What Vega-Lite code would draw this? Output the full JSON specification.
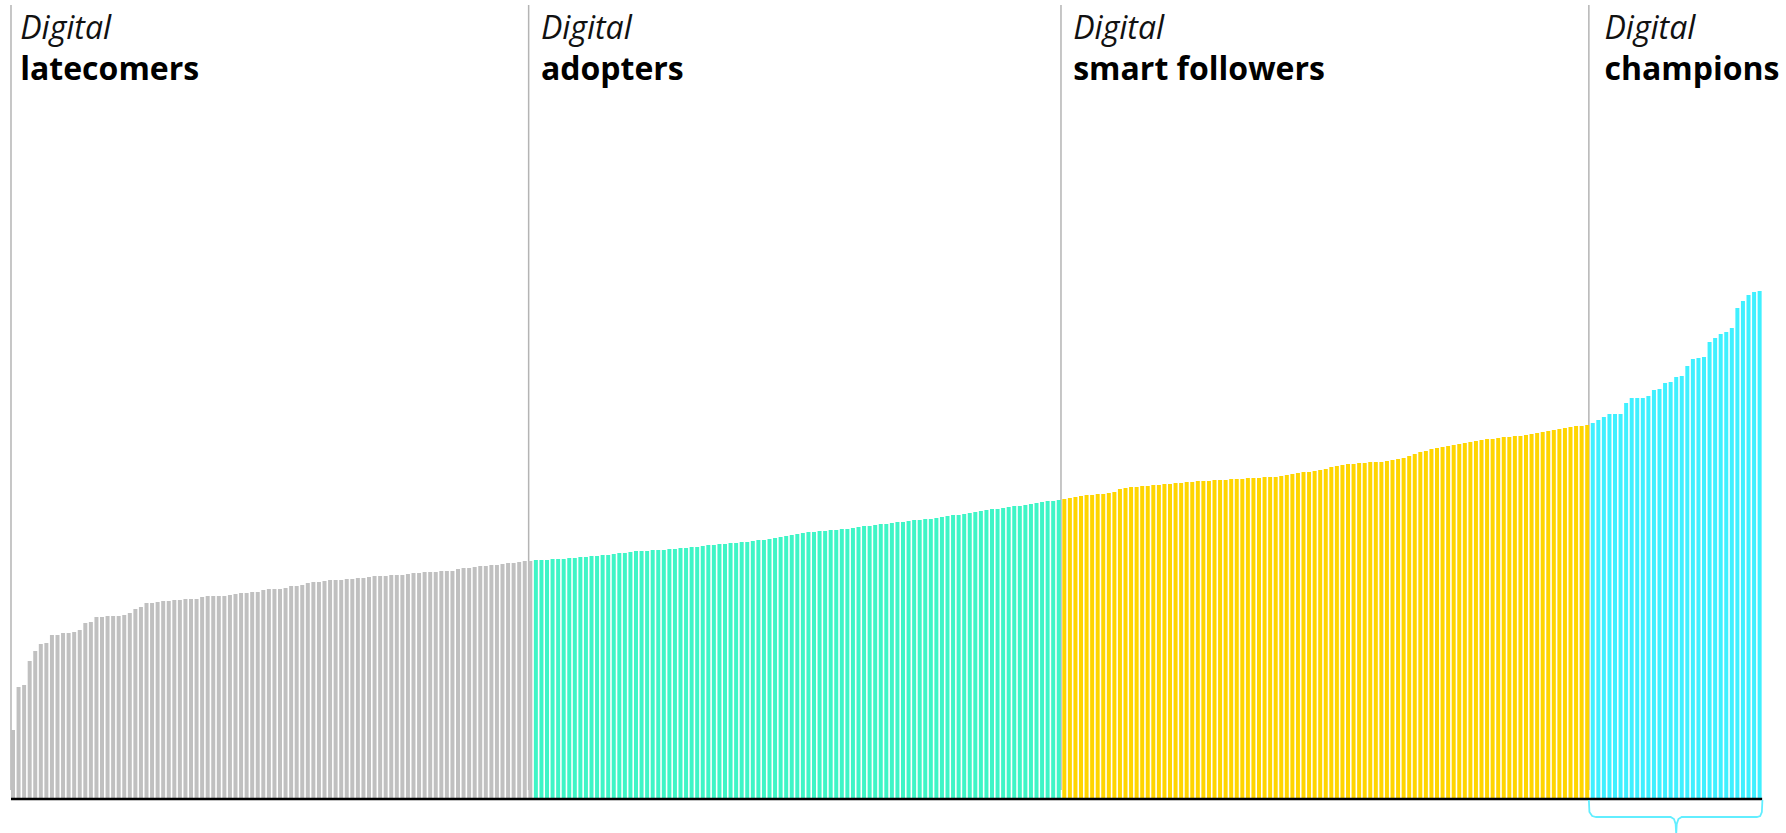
{
  "$schema": "https://vega.github.io/schema/vega-lite/v6.json",
  "width": 1786,
  "height": 833,
  "padding": 0,
  "autosize": {"type": "none"},
  "background": "white",
  "config": {"view": {"stroke": null}},
  "datasets": {
    "groups": [
      {"name": "latecomers", "at": -0.36, "lx": 1.3},
      {"name": "adopters", "at": 92.7, "lx": 94.9},
      {"name": "smart followers", "at": 188.4, "lx": 190.6},
      {"name": "champions", "at": 283.3, "lx": 286.1}
    ],
    "bracket": [
      {"k": 0, "bx": 283.3, "by": -2},
      {"k": 1, "bx": 283.4, "by": -14},
      {"k": 2, "bx": 283.9, "by": -18},
      {"k": 3, "bx": 284.6, "by": -19},
      {"k": 4, "bx": 298.0, "by": -19},
      {"k": 5, "bx": 298.6, "by": -21},
      {"k": 6, "bx": 298.9, "by": -26},
      {"k": 7, "bx": 299.0, "by": -36},
      {"k": 8, "bx": 299.1, "by": -26},
      {"k": 9, "bx": 299.4, "by": -21},
      {"k": 10, "bx": 300.0, "by": -19},
      {"k": 11, "bx": 313.5, "by": -19},
      {"k": 12, "bx": 314.1, "by": -18},
      {"k": 13, "bx": 314.4, "by": -14},
      {"k": 14, "bx": 314.5, "by": -2}
    ],
    "bars": [
      {"i":0,"v":68,"g":"latecomers"},{"i":1,"v":111,"g":"latecomers"},{"i":2,"v":113,"g":"latecomers"},{"i":3,"v":137,"g":"latecomers"},{"i":4,"v":147,"g":"latecomers"},{"i":5,"v":154,"g":"latecomers"},{"i":6,"v":155,"g":"latecomers"},{"i":7,"v":163,"g":"latecomers"},{"i":8,"v":163,"g":"latecomers"},{"i":9,"v":165,"g":"latecomers"},
      {"i":10,"v":165,"g":"latecomers"},{"i":11,"v":166,"g":"latecomers"},{"i":12,"v":168,"g":"latecomers"},{"i":13,"v":175,"g":"latecomers"},{"i":14,"v":176,"g":"latecomers"},{"i":15,"v":181,"g":"latecomers"},{"i":16,"v":181,"g":"latecomers"},{"i":17,"v":182,"g":"latecomers"},{"i":18,"v":182,"g":"latecomers"},{"i":19,"v":182,"g":"latecomers"},
      {"i":20,"v":183,"g":"latecomers"},{"i":21,"v":185,"g":"latecomers"},{"i":22,"v":189,"g":"latecomers"},{"i":23,"v":191,"g":"latecomers"},{"i":24,"v":195,"g":"latecomers"},{"i":25,"v":195,"g":"latecomers"},{"i":26,"v":196,"g":"latecomers"},{"i":27,"v":197,"g":"latecomers"},{"i":28,"v":197,"g":"latecomers"},{"i":29,"v":198,"g":"latecomers"},
      {"i":30,"v":198,"g":"latecomers"},{"i":31,"v":199,"g":"latecomers"},{"i":32,"v":199,"g":"latecomers"},{"i":33,"v":199,"g":"latecomers"},{"i":34,"v":201,"g":"latecomers"},{"i":35,"v":202,"g":"latecomers"},{"i":36,"v":202,"g":"latecomers"},{"i":37,"v":202,"g":"latecomers"},{"i":38,"v":202,"g":"latecomers"},{"i":39,"v":203,"g":"latecomers"},
      {"i":40,"v":204,"g":"latecomers"},{"i":41,"v":205,"g":"latecomers"},{"i":42,"v":205,"g":"latecomers"},{"i":43,"v":206,"g":"latecomers"},{"i":44,"v":206,"g":"latecomers"},{"i":45,"v":208,"g":"latecomers"},{"i":46,"v":209,"g":"latecomers"},{"i":47,"v":209,"g":"latecomers"},{"i":48,"v":209,"g":"latecomers"},{"i":49,"v":210,"g":"latecomers"},
      {"i":50,"v":212,"g":"latecomers"},{"i":51,"v":212,"g":"latecomers"},{"i":52,"v":213,"g":"latecomers"},{"i":53,"v":215,"g":"latecomers"},{"i":54,"v":216,"g":"latecomers"},{"i":55,"v":216,"g":"latecomers"},{"i":56,"v":217,"g":"latecomers"},{"i":57,"v":218,"g":"latecomers"},{"i":58,"v":218,"g":"latecomers"},{"i":59,"v":218,"g":"latecomers"},
      {"i":60,"v":219,"g":"latecomers"},{"i":61,"v":219,"g":"latecomers"},{"i":62,"v":220,"g":"latecomers"},{"i":63,"v":220,"g":"latecomers"},{"i":64,"v":221,"g":"latecomers"},{"i":65,"v":222,"g":"latecomers"},{"i":66,"v":222,"g":"latecomers"},{"i":67,"v":222,"g":"latecomers"},{"i":68,"v":223,"g":"latecomers"},{"i":69,"v":223,"g":"latecomers"},
      {"i":70,"v":223,"g":"latecomers"},{"i":71,"v":224,"g":"latecomers"},{"i":72,"v":225,"g":"latecomers"},{"i":73,"v":225,"g":"latecomers"},{"i":74,"v":226,"g":"latecomers"},{"i":75,"v":226,"g":"latecomers"},{"i":76,"v":226,"g":"latecomers"},{"i":77,"v":227,"g":"latecomers"},{"i":78,"v":227,"g":"latecomers"},{"i":79,"v":227,"g":"latecomers"},
      {"i":80,"v":229,"g":"latecomers"},{"i":81,"v":230,"g":"latecomers"},{"i":82,"v":230,"g":"latecomers"},{"i":83,"v":231,"g":"latecomers"},{"i":84,"v":232,"g":"latecomers"},{"i":85,"v":232,"g":"latecomers"},{"i":86,"v":233,"g":"latecomers"},{"i":87,"v":233,"g":"latecomers"},{"i":88,"v":234,"g":"latecomers"},{"i":89,"v":235,"g":"latecomers"},
      {"i":90,"v":235,"g":"latecomers"},{"i":91,"v":236,"g":"latecomers"},{"i":92,"v":237,"g":"latecomers"},{"i":93,"v":237,"g":"latecomers"},
      {"i":94,"v":238,"g":"adopters"},{"i":95,"v":238,"g":"adopters"},{"i":96,"v":238,"g":"adopters"},{"i":97,"v":239,"g":"adopters"},{"i":98,"v":239,"g":"adopters"},{"i":99,"v":239,"g":"adopters"},
      {"i":100,"v":240,"g":"adopters"},{"i":101,"v":240,"g":"adopters"},{"i":102,"v":241,"g":"adopters"},{"i":103,"v":241,"g":"adopters"},{"i":104,"v":242,"g":"adopters"},{"i":105,"v":242,"g":"adopters"},{"i":106,"v":243,"g":"adopters"},{"i":107,"v":243,"g":"adopters"},{"i":108,"v":244,"g":"adopters"},{"i":109,"v":245,"g":"adopters"},
      {"i":110,"v":245,"g":"adopters"},{"i":111,"v":246,"g":"adopters"},{"i":112,"v":247,"g":"adopters"},{"i":113,"v":247,"g":"adopters"},{"i":114,"v":247,"g":"adopters"},{"i":115,"v":248,"g":"adopters"},{"i":116,"v":248,"g":"adopters"},{"i":117,"v":248,"g":"adopters"},{"i":118,"v":249,"g":"adopters"},{"i":119,"v":249,"g":"adopters"},
      {"i":120,"v":250,"g":"adopters"},{"i":121,"v":250,"g":"adopters"},{"i":122,"v":251,"g":"adopters"},{"i":123,"v":251,"g":"adopters"},{"i":124,"v":252,"g":"adopters"},{"i":125,"v":253,"g":"adopters"},{"i":126,"v":253,"g":"adopters"},{"i":127,"v":254,"g":"adopters"},{"i":128,"v":254,"g":"adopters"},{"i":129,"v":255,"g":"adopters"},
      {"i":130,"v":255,"g":"adopters"},{"i":131,"v":256,"g":"adopters"},{"i":132,"v":256,"g":"adopters"},{"i":133,"v":257,"g":"adopters"},{"i":134,"v":258,"g":"adopters"},{"i":135,"v":258,"g":"adopters"},{"i":136,"v":259,"g":"adopters"},{"i":137,"v":260,"g":"adopters"},{"i":138,"v":261,"g":"adopters"},{"i":139,"v":262,"g":"adopters"},
      {"i":140,"v":263,"g":"adopters"},{"i":141,"v":264,"g":"adopters"},{"i":142,"v":265,"g":"adopters"},{"i":143,"v":266,"g":"adopters"},{"i":144,"v":266,"g":"adopters"},{"i":145,"v":267,"g":"adopters"},{"i":146,"v":267,"g":"adopters"},{"i":147,"v":268,"g":"adopters"},{"i":148,"v":268,"g":"adopters"},{"i":149,"v":269,"g":"adopters"},
      {"i":150,"v":269,"g":"adopters"},{"i":151,"v":270,"g":"adopters"},{"i":152,"v":271,"g":"adopters"},{"i":153,"v":272,"g":"adopters"},{"i":154,"v":272,"g":"adopters"},{"i":155,"v":273,"g":"adopters"},{"i":156,"v":274,"g":"adopters"},{"i":157,"v":274,"g":"adopters"},{"i":158,"v":275,"g":"adopters"},{"i":159,"v":276,"g":"adopters"},
      {"i":160,"v":276,"g":"adopters"},{"i":161,"v":277,"g":"adopters"},{"i":162,"v":278,"g":"adopters"},{"i":163,"v":278,"g":"adopters"},{"i":164,"v":279,"g":"adopters"},{"i":165,"v":279,"g":"adopters"},{"i":166,"v":280,"g":"adopters"},{"i":167,"v":281,"g":"adopters"},{"i":168,"v":282,"g":"adopters"},{"i":169,"v":283,"g":"adopters"},
      {"i":170,"v":283,"g":"adopters"},{"i":171,"v":284,"g":"adopters"},{"i":172,"v":285,"g":"adopters"},{"i":173,"v":286,"g":"adopters"},{"i":174,"v":287,"g":"adopters"},{"i":175,"v":288,"g":"adopters"},{"i":176,"v":289,"g":"adopters"},{"i":177,"v":289,"g":"adopters"},{"i":178,"v":290,"g":"adopters"},{"i":179,"v":291,"g":"adopters"},
      {"i":180,"v":292,"g":"adopters"},{"i":181,"v":292,"g":"adopters"},{"i":182,"v":293,"g":"adopters"},{"i":183,"v":294,"g":"adopters"},{"i":184,"v":295,"g":"adopters"},{"i":185,"v":296,"g":"adopters"},{"i":186,"v":297,"g":"adopters"},{"i":187,"v":297,"g":"adopters"},{"i":188,"v":298,"g":"adopters"},
      {"i":189,"v":299,"g":"smart followers"},
      {"i":190,"v":300,"g":"smart followers"},{"i":191,"v":301,"g":"smart followers"},{"i":192,"v":302,"g":"smart followers"},{"i":193,"v":303,"g":"smart followers"},{"i":194,"v":303,"g":"smart followers"},{"i":195,"v":304,"g":"smart followers"},{"i":196,"v":304,"g":"smart followers"},{"i":197,"v":305,"g":"smart followers"},{"i":198,"v":306,"g":"smart followers"},{"i":199,"v":309,"g":"smart followers"},
      {"i":200,"v":310,"g":"smart followers"},{"i":201,"v":311,"g":"smart followers"},{"i":202,"v":311,"g":"smart followers"},{"i":203,"v":312,"g":"smart followers"},{"i":204,"v":312,"g":"smart followers"},{"i":205,"v":313,"g":"smart followers"},{"i":206,"v":313,"g":"smart followers"},{"i":207,"v":314,"g":"smart followers"},{"i":208,"v":314,"g":"smart followers"},{"i":209,"v":315,"g":"smart followers"},
      {"i":210,"v":315,"g":"smart followers"},{"i":211,"v":316,"g":"smart followers"},{"i":212,"v":316,"g":"smart followers"},{"i":213,"v":317,"g":"smart followers"},{"i":214,"v":317,"g":"smart followers"},{"i":215,"v":317,"g":"smart followers"},{"i":216,"v":318,"g":"smart followers"},{"i":217,"v":318,"g":"smart followers"},{"i":218,"v":318,"g":"smart followers"},{"i":219,"v":319,"g":"smart followers"},
      {"i":220,"v":319,"g":"smart followers"},{"i":221,"v":319,"g":"smart followers"},{"i":222,"v":320,"g":"smart followers"},{"i":223,"v":320,"g":"smart followers"},{"i":224,"v":320,"g":"smart followers"},{"i":225,"v":321,"g":"smart followers"},{"i":226,"v":321,"g":"smart followers"},{"i":227,"v":321,"g":"smart followers"},{"i":228,"v":322,"g":"smart followers"},{"i":229,"v":323,"g":"smart followers"},
      {"i":230,"v":324,"g":"smart followers"},{"i":231,"v":325,"g":"smart followers"},{"i":232,"v":326,"g":"smart followers"},{"i":233,"v":326,"g":"smart followers"},{"i":234,"v":327,"g":"smart followers"},{"i":235,"v":328,"g":"smart followers"},{"i":236,"v":329,"g":"smart followers"},{"i":237,"v":331,"g":"smart followers"},{"i":238,"v":332,"g":"smart followers"},{"i":239,"v":333,"g":"smart followers"},
      {"i":240,"v":334,"g":"smart followers"},{"i":241,"v":334,"g":"smart followers"},{"i":242,"v":335,"g":"smart followers"},{"i":243,"v":335,"g":"smart followers"},{"i":244,"v":336,"g":"smart followers"},{"i":245,"v":336,"g":"smart followers"},{"i":246,"v":336,"g":"smart followers"},{"i":247,"v":337,"g":"smart followers"},{"i":248,"v":338,"g":"smart followers"},{"i":249,"v":339,"g":"smart followers"},
      {"i":250,"v":340,"g":"smart followers"},{"i":251,"v":342,"g":"smart followers"},{"i":252,"v":344,"g":"smart followers"},{"i":253,"v":346,"g":"smart followers"},{"i":254,"v":347,"g":"smart followers"},{"i":255,"v":349,"g":"smart followers"},{"i":256,"v":350,"g":"smart followers"},{"i":257,"v":351,"g":"smart followers"},{"i":258,"v":352,"g":"smart followers"},{"i":259,"v":353,"g":"smart followers"},
      {"i":260,"v":354,"g":"smart followers"},{"i":261,"v":355,"g":"smart followers"},{"i":262,"v":356,"g":"smart followers"},{"i":263,"v":357,"g":"smart followers"},{"i":264,"v":358,"g":"smart followers"},{"i":265,"v":359,"g":"smart followers"},{"i":266,"v":359,"g":"smart followers"},{"i":267,"v":360,"g":"smart followers"},{"i":268,"v":361,"g":"smart followers"},{"i":269,"v":361,"g":"smart followers"},
      {"i":270,"v":362,"g":"smart followers"},{"i":271,"v":362,"g":"smart followers"},{"i":272,"v":363,"g":"smart followers"},{"i":273,"v":364,"g":"smart followers"},{"i":274,"v":365,"g":"smart followers"},{"i":275,"v":366,"g":"smart followers"},{"i":276,"v":367,"g":"smart followers"},{"i":277,"v":368,"g":"smart followers"},{"i":278,"v":369,"g":"smart followers"},{"i":279,"v":370,"g":"smart followers"},
      {"i":280,"v":371,"g":"smart followers"},{"i":281,"v":372,"g":"smart followers"},{"i":282,"v":372,"g":"smart followers"},{"i":283,"v":373,"g":"smart followers"},
      {"i":284,"v":375,"g":"champions"},{"i":285,"v":378,"g":"champions"},{"i":286,"v":381,"g":"champions"},{"i":287,"v":384,"g":"champions"},{"i":288,"v":384,"g":"champions"},{"i":289,"v":384,"g":"champions"},
      {"i":290,"v":395,"g":"champions"},{"i":291,"v":400,"g":"champions"},{"i":292,"v":400,"g":"champions"},{"i":293,"v":400,"g":"champions"},{"i":294,"v":402,"g":"champions"},{"i":295,"v":408,"g":"champions"},{"i":296,"v":409,"g":"champions"},{"i":297,"v":415,"g":"champions"},{"i":298,"v":416,"g":"champions"},{"i":299,"v":421,"g":"champions"},
      {"i":300,"v":422,"g":"champions"},{"i":301,"v":432,"g":"champions"},{"i":302,"v":439,"g":"champions"},{"i":303,"v":440,"g":"champions"},{"i":304,"v":441,"g":"champions"},{"i":305,"v":456,"g":"champions"},{"i":306,"v":460,"g":"champions"},{"i":307,"v":464,"g":"champions"},{"i":308,"v":466,"g":"champions"},{"i":309,"v":470,"g":"champions"},
      {"i":310,"v":490,"g":"champions"},{"i":311,"v":497,"g":"champions"},{"i":312,"v":503,"g":"champions"},{"i":313,"v":506,"g":"champions"},{"i":314,"v":507,"g":"champions"}
    ]
  },
  "layer": [
    {
      "data": {"name": "groups"},
      "mark": {"type": "rule", "color": "#b4b4b4", "strokeWidth": 1.5},
      "encoding": {
        "x": {"field": "at", "type": "quantitative", "scale": {"domain": [-2.337, 318.74], "nice": false, "zero": false, "padding": 0}, "axis": null},
        "y": {"datum": 793, "type": "quantitative", "scale": {"domain": [-35, 798], "nice": false, "zero": false, "padding": 0}, "axis": null},
        "y2": {"datum": 8}
      }
    },
    {
      "data": {"name": "bars"},
      "mark": {"type": "bar", "width": 4},
      "encoding": {
        "x": {"field": "i", "type": "quantitative"},
        "y": {"field": "v", "type": "quantitative"},
        "y2": {"datum": 0},
        "color": {
          "field": "g", "type": "nominal", "legend": null,
          "scale": {"domain": ["latecomers", "adopters", "smart followers", "champions"], "range": ["#c0c0c0", "#3ff5c6", "#ffd500", "#3ff0ff"]}
        }
      }
    },
    {
      "data": {"values": [{}]},
      "mark": {"type": "rule", "color": "#000000", "strokeWidth": 2.3},
      "encoding": {
        "x": {"datum": -0.36},
        "x2": {"datum": 314.45},
        "y": {"datum": -1}
      }
    },
    {
      "data": {"name": "bracket"},
      "mark": {"type": "line", "color": "#62eeff", "strokeWidth": 1.8, "interpolate": "linear"},
      "encoding": {
        "x": {"field": "bx", "type": "quantitative"},
        "y": {"field": "by", "type": "quantitative"},
        "order": {"field": "k", "type": "quantitative"}
      }
    },
    {
      "data": {"name": "groups"},
      "mark": {"type": "text", "align": "left", "baseline": "alphabetic", "font": "Open Sans", "fontSize": 32, "fontStyle": "italic", "fontWeight": "normal", "color": "#111111"},
      "encoding": {
        "x": {"field": "lx", "type": "quantitative"},
        "y": {"datum": 759},
        "text": {"value": "Digital"}
      }
    },
    {
      "data": {"name": "groups"},
      "mark": {"type": "text", "align": "left", "baseline": "alphabetic", "font": "Open Sans", "fontSize": 32, "fontWeight": "bold", "color": "#000000"},
      "encoding": {
        "x": {"field": "lx", "type": "quantitative"},
        "y": {"datum": 718},
        "text": {"field": "name", "type": "nominal"}
      }
    }
  ]
}
